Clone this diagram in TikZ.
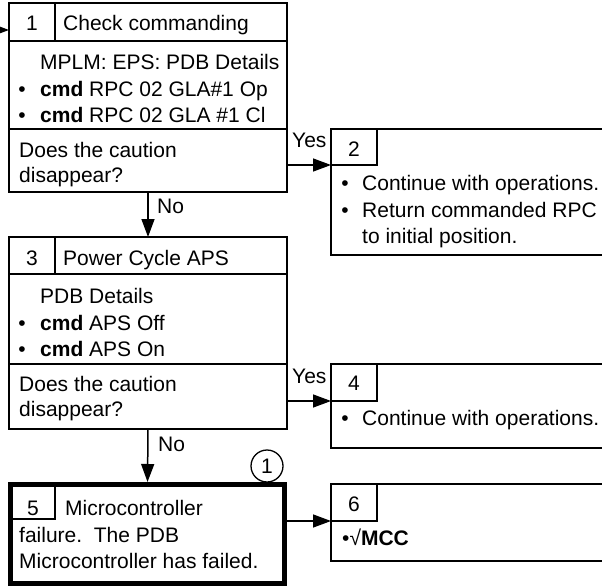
\documentclass[tikz,border=0pt]{standalone}
\usepackage{fontspec}
\setmainfont{Liberation Sans}
\usetikzlibrary{arrows.meta}
\begin{document}
\begin{tikzpicture}[x=1pt,y=-1pt,
  box/.style={draw, line width=1.9pt, inner sep=0pt, outer sep=0pt, anchor=north west},
  cellbox/.style={draw, line width=1.4pt, inner sep=0pt, outer sep=0pt, anchor=north west, minimum width=46pt},
  rule/.style={line width=1.9pt},
  txt/.style={anchor=base west, inner sep=0pt, font=\fontsize{21}{26}\selectfont},
  num/.style={anchor=base, inner sep=0pt, font=\fontsize{21}{26}\selectfont},
  arr/.style={line width=1.5pt, -{Triangle[length=18pt,width=13pt]}}]
\useasboundingbox (0,0) rectangle (602,588);

% ---------- Box 1 ----------
\node[box, minimum width=278pt, minimum height=189pt] (b1) at (9,3) {};
\node[cellbox, minimum height=38pt] (h1) at (9,3) {};
\draw[rule] (b1.west |- 0,41) -- (b1.east |- 0,41);
\draw[rule] (b1.west |- 0,129) -- (b1.east |- 0,129);
\node[num] (n1) at (32,31) {1};
\node[txt] (t1) at (63,31) {Check commanding};
\node[txt] (t1b) at (40,70) {MPLM: EPS: PDB Details};
\node[num] (u1c) at (22,97) {•};
\node[txt] (t1c) at (40,97) {\textbf{cmd} RPC 02 GLA\#1 Op};
\node[num] (u1d) at (22,123) {•};
\node[txt] (t1d) at (40,123) {\textbf{cmd} RPC 02 GLA \#1 Cl};
\node[txt] (q1a) at (19,158) {Does the caution};
\node[txt] (q1b) at (19,183) {disappear?};
\coordinate (in1) at (0,30);
\draw[arr] (in1) -- (in1 -| b1.west);

% ---------- Box 2 ----------
\draw[rule] (602,129) -| (331,255) -- (602,255);
\node[cellbox, minimum height=36pt] (h2) at (331,129) {};
\node[num] (n2) at (354,157) {2};
\node[num] (u2a) at (345,190) {•};
\node[txt] (t2a) at (362,190) {Continue with operations.};
\node[num] (u2b) at (345,217) {•};
\node[txt] (t2b) at (362,217) {Return commanded RPC};
\node[txt] (t2c) at (362,243) {to initial position.};
\draw[arr] (b1.east |- h2.south) -- (h2.south west);
\node[txt] (y1) at (292,148) {Yes};

% ---------- Box 3 ----------
\node[box, minimum width=278pt, minimum height=192pt] (b3) at (9,237) {};
\node[cellbox, minimum height=37pt] (h3) at (9,237) {};
\draw[rule] (b3.west |- 0,274) -- (b3.east |- 0,274);
\draw[rule] (b3.west |- 0,364) -- (b3.east |- 0,364);
\node[num] (n3) at (32,265) {3};
\node[txt] (t3) at (63,265) {Power Cycle APS};
\node[txt] (t3b) at (40,303) {PDB Details};
\node[num] (u3c) at (22,330) {•};
\node[txt] (t3c) at (40,330) {\textbf{cmd} APS Off};
\node[num] (u3d) at (22,356) {•};
\node[txt] (t3d) at (40,356) {\textbf{cmd} APS On};
\node[txt] (q3a) at (19,391) {Does the caution};
\node[txt] (q3b) at (19,416) {disappear?};
\draw[arr] (b1.south) -- (b3.north);
\node[txt] (no1) at (157,213) {No};

% ---------- Box 4 ----------
\draw[rule] (602,364) -| (331,448) -- (602,448);
\node[cellbox, minimum height=37pt] (h4) at (331,364) {};
\node[num] (n4) at (354,390) {4};
\node[num] (u4a) at (345,425) {•};
\node[txt] (t4a) at (362,425) {Continue with operations.};
\draw[arr] (b3.east |- h4.south) -- (h4.south west);
\node[txt] (y2) at (292,383) {Yes};

% ---------- Box 5 ----------
\node[draw, line width=5pt, inner sep=0pt, outer sep=0pt, anchor=north west,
      minimum width=274pt, minimum height=98.5pt] (b5) at (10.5,484.5) {};
\draw[line width=1.4pt] (13,519) -| (55,487);
\node[num] (n5) at (33,515) {5};
\node[txt] (t5a) at (65,515) {Microcontroller};
\node[txt] (t5b) at (19,542) {failure.\ \ The PDB};
\node[txt] (t5c) at (19,568) {Microcontroller has failed.};
\draw[arr, shorten >=2.5pt] (b3.south) -- (b5.north);
\node[txt] (no2) at (158,451) {No};
\node[draw, circle, line width=1.3pt, minimum size=32pt, inner sep=0pt,
      font=\fontsize{21}{24}\selectfont] (c1) at (267,466) {1};

% ---------- Box 6 ----------
\draw[rule] (602,484) -| (331,561) -- (602,561);
\node[cellbox, minimum height=37pt] (h6) at (331,484) {};
\node[num] (n6) at (354,511) {6};
\node[txt] (t6) at (342,545) {•√\textbf{MCC}};
\draw[arr, shorten <=2.5pt] (b5.east |- h6.south) -- (h6.south west);
\end{tikzpicture}
\end{document}
